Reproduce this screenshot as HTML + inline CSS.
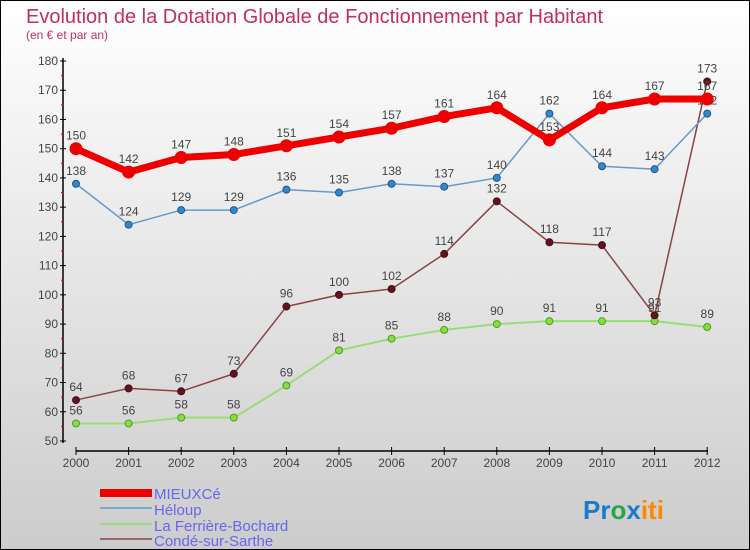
<!DOCTYPE html>
<html><head><meta charset="utf-8"><style>
body{margin:0}
#c{position:relative;width:748px;height:548px;border:1px solid #000;background:linear-gradient(#ffffff,#cccccc);font-family:"Liberation Sans",sans-serif;overflow:hidden}
</style></head><body>
<div id="c">
<svg width="748" height="548" id="s" style="position:absolute;left:0;top:0">
<text x="25" y="22" font-size="20" fill="#c0305a">Evolution de la Dotation Globale de Fonctionnement par Habitant</text>
<text x="25" y="38" font-size="12" fill="#c0305a">(en € et par an)</text>
<g id="ax"></g><g id="ser"></g>
<g font-size="15" fill="#6666ee">
<rect x="99" y="488" width="52" height="8" fill="#e00"/>
<text x="153" y="498">MIEUXCé</text>
<rect x="99" y="506" width="52" height="2" fill="#7aa8cc"/>
<text x="153" y="514">Héloup</text>
<rect x="99" y="522" width="52" height="2" fill="#99dd77"/>
<text x="153" y="530">La Ferrière-Bochard</text>
<rect x="99" y="537" width="52" height="2" fill="#996666"/>
<text x="153" y="545">Condé-sur-Sarthe</text>
</g>
<text x="582" y="518" font-size="26" font-weight="bold"><tspan fill="#1a7acc">Pr</tspan><tspan fill="#22aa44">o</tspan><tspan fill="#1a7acc">x</tspan><tspan fill="#ff8800">iti</tspan></text>
</svg>
</div>
<script>
const years=[2000,2001,2002,2003,2004,2005,2006,2007,2008,2009,2010,2011,2012];
const yTicks=[50,60,70,80,90,100,110,120,130,140,150,160,170,180];
const mieuxce=[150,142,147,148,151,154,157,161,164,153,164,167,167];
const heloup=[138,124,129,129,136,135,138,137,140,162,144,143,162];
const ferriere=[56,56,58,58,69,81,85,88,90,91,91,91,89];
const conde=[64,68,67,73,96,100,102,114,132,118,117,93,173];
const NS="http://www.w3.org/2000/svg";
const X=i=>75+i*52.6;
const Y=v=>440-(v-50)*2.923;
function mk(t,a,p){const e=document.createElementNS(NS,t);for(const k in a)e.setAttribute(k,a[k]);p.appendChild(e);return e;}
const ax=document.getElementById('ax');
let yl=mk('line',{x1:62,y1:57,x2:62,y2:442,stroke:'#000','stroke-width':1.5},ax);


let xl=mk('line',{x1:75,y1:450,x2:707,y2:450,stroke:'#000','stroke-width':1.5},ax);


yTicks.forEach(v=>{
  mk('line',{x1:59,x2:65,y1:Y(v),y2:Y(v),stroke:'#000'},ax);
  if(v<180)mk('line',{x1:60,x2:63,y1:Y(v+5),y2:Y(v+5),stroke:'#e00'},ax);
  const t=mk('text',{x:57,y:Y(v)+4,'text-anchor':'end','font-size':12,fill:'#444'},ax);
  t.textContent=v;
  
  
});
years.forEach((y,i)=>{
  mk('line',{x1:X(i),x2:X(i),y1:446,y2:454,stroke:'#000'},ax);
  const t=mk('text',{x:X(i),y:466,'text-anchor':'middle','font-size':12,fill:'#444'},ax);
  t.textContent=y;
  
  
});
const ser=document.getElementById('ser');
function series(d,name,col,w,r,dot,dotStroke){
  const g=mk('g',{},ser);
  
  
  mk('polyline',{points:d.map((v,i)=>X(i)+','+Y(v)).join(' '),fill:'none',stroke:col,'stroke-width':w,'stroke-linejoin':'round'},g);
  d.forEach((v,i)=>{
    const c=mk('circle',{cx:X(i),cy:Y(v),r:r,fill:dot,stroke:dotStroke,'stroke-width':1},g);
    
    
    const t=mk('text',{x:X(i),y:Y(v)-9,'text-anchor':'middle','font-size':12,fill:'#444'},g);
    t.textContent=v;
    
    
  });
}
series(ferriere,'la-ferriere','#99dd77',2,3.5,'#88dd44','#559922');
series(conde,'conde','#884444',1.5,3.5,'#661122','#441111');
series(heloup,'heloup','#6699cc',1.5,3.5,'#3388cc','#225588');
series(mieuxce,'mieuxce','#ee0000',7,6,'#ee0000','#ee0000');
</script>
</body></html>
